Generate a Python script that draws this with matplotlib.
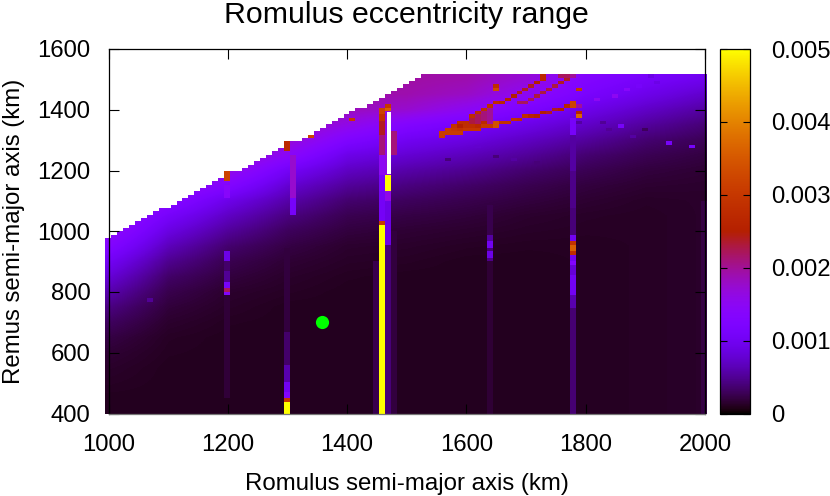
import numpy as np
import matplotlib
matplotlib.use("Agg")
import matplotlib.pyplot as plt
from matplotlib.colors import ListedColormap
from matplotlib.patches import Polygon

plt.rcParams['font.family'] = ['Liberation Sans', 'DejaVu Sans']

# eccentricity range, in units of 1e-3
base_x = [1000, 1100, 1200, 1300, 1400, 1500, 1600, 1700, 1800, 1900, 2000]
base_y = list(range(400, 1551, 50))
base_e = [
    [.10, .10, .10, .10, .10, .10, .10, .10, .11, .12, .14],  # 400
    [.10, .10, .10, .10, .10, .10, .10, .10, .11, .12, .14],
    [.12, .10, .10, .10, .10, .10, .10, .10, .11, .12, .14],  # 500
    [.14, .10, .10, .10, .10, .10, .10, .10, .11, .12, .14],
    [.17, .11, .10, .10, .10, .10, .10, .10, .11, .12, .14],  # 600
    [.22, .12, .10, .10, .10, .10, .10, .10, .11, .12, .14],
    [.31, .15, .11, .10, .10, .10, .10, .10, .11, .12, .14],  # 700
    [.43, .19, .13, .10, .10, .10, .10, .10, .11, .12, .14],
    [.60, .25, .15, .12, .10, .10, .10, .10, .11, .12, .14],  # 800
    [.80, .34, .20, .14, .11, .10, .10, .10, .11, .12, .14],
    [1.02, .48, .26, .17, .13, .12, .10, .10, .11, .12, .14],  # 900
    [1.30, .66, .36, .22, .15, .14, .12, .11, .11, .12, .14],
    [1.55, .87, .52, .30, .20, .17, .15, .13, .12, .12, .14],  # 1000
    [1.70, 1.10, .70, .42, .26, .22, .19, .15, .13, .12, .14],
    [1.80, 1.40, .92, .58, .36, .30, .25, .20, .16, .13, .14],  # 1100
    [1.90, 1.65, 1.30, .78, .52, .42, .34, .26, .20, .16, .15],
    [1.95, 1.80, 1.65, 1.05, .70, .58, .48, .36, .27, .20, .17],  # 1200
    [2.00, 1.90, 1.90, 1.45, .92, .78, .66, .52, .37, .27, .21],
    [2.00, 1.95, 1.95, 1.75, 1.25, 1.00, .87, .70, .53, .37, .28],  # 1300
    [2.00, 1.95, 1.95, 1.90, 1.60, 1.30, 1.10, .92, .72, .53, .39],
    [2.00, 1.95, 1.95, 1.95, 1.85, 1.75, 1.50, 1.20, .93, .72, .55],  # 1400
    [2.00, 1.95, 1.95, 1.95, 1.95, 1.90, 1.80, 1.50, 1.15, .93, .74],
    [2.00, 1.95, 1.95, 1.95, 1.95, 1.95, 1.90, 1.70, 1.30, 1.10, .96],  # 1500
    [2.00, 1.95, 1.95, 1.95, 1.95, 1.95, 1.95, 1.75, 1.40, 1.20, 1.05],
]

# highest row filled in each 10 km column from 1000 km, flat after that
top_row = [52, 53, 54, 55, 56, 57, 58, 59, 60, 61, 61, 62, 63, 64, 65, 66, 67, 68,
           69, 70, 71, 72, 72, 73, 74, 75, 76, 77, 78, 79, 80, 81, 81, 82, 83, 84,
           85, 86, 87, 88, 89, 90, 91, 91, 92, 93, 94, 95, 96, 97, 98, 99, 100, 101]

# resonance stripes: column, lowest km, highest km, value
stripe_x = [1460, 1460, 1460, 1460, 1460, 1460, 1460, 1460, 1460, 1470, 1470, 1470, 1470, 1470, 1470, 1470,
            1450, 1480, 1480, 1300, 1300, 1300, 1300, 1300, 1300, 1300, 1300, 1310, 1310, 1300,
            1200, 1200, 1200, 1200, 1200, 1200, 1200, 1200, 1070,
            1640, 1640, 1640, 1640, 1640, 1640, 1640,
            1780, 1780, 1780, 1780, 1780, 1780, 1780, 1780, 1780, 1780, 1780, 1780, 1780, 1780, 1780,
            1780, 2000, 1570, 1580, 1590, 1600, 1610, 1620, 1630, 1640]
stripe_lo = [400, 1026, 1036, 1135, 1190, 1256, 1322, 1359, 1381, 1405, 1392, 1190, 1131, 1095, 950, 400,
             400, 400, 1250, 400, 436, 445, 454, 475, 510, 565, 675, 1112, 1060, 1265,
             900, 862, 840, 816, 802, 793, 455, 1110, 770,
             947, 931, 911, 895, 400, 970, 993,
             967, 957, 936, 925, 903, 883, 850, 793, 740, 400, 970, 993, 1080, 1200, 1320,
             1405, 400, 1322, 1324, 1324, 1330, 1335, 1340, 1344, 1347]
stripe_hi = [1026, 1036, 1135, 1190, 1256, 1322, 1359, 1381, 1405, 1415, 1405, 1392, 1190, 1131, 1095, 950,
             900, 1000, 1330, 436, 445, 454, 475, 510, 565, 675, 940, 1256, 1112, 1295,
             931, 900, 862, 830, 816, 802, 793, 1150, 783,
             967, 947, 931, 911, 895, 993, 1090,
             993, 967, 957, 936, 925, 903, 883, 850, 793, 740, 993, 1080, 1200, 1320, 1372,
             1425, 1100, 1328, 1342, 1355, 1362, 1375, 1388, 1400, 1412]
stripe_e = [5.0, 3.0, 1.05, 1.1, 1.5, 2.1, 2.4, 2.9, 3.2, 3.0, 3.6, 1.6, 5.0, 1.6, 0.9, 0.4,
            .25, .2, 2.1, 5.0, 3.8, 3.0, 1.3, 1.0, .6, .35, .2, 1.75, 1.1, 2.7,
            .9, .35, .5, 1.1, 2.2, 1.3, .18, 1.4, .5,
            1.0, .4, .9, .45, .17, .55, .25,
            1.1, 2.9, 3.6, 2.8, 1.0, 1.3, .8, 1.0, .6, .38, 1.0, .4, .45, .55, 1.1,
            3.2, .22, 2.6, 2.5, 2.5, 2.4, 2.3, 2.2, 2.1, 2.0]

# lone bright cells
spot_x = [1200, 1340, 1410, 1650, 1650, 1650, 1790, 1790, 1790, 1730, 1760, 1770, 1780, 1910,
          1860, 1940, 1980, 1880, 1840, 1830, 1790, 1680, 1720, 1620, 1650, 1570, 1900,
          1870, 1890, 1920, 1850, 1820, 1790, 1200, 1200]
spot_y = [1180, 1308, 1367, 1477, 1465, 1352, 1377, 1387, 1464, 1508, 1508, 1508, 1508, 1508,
          1344, 1289, 1278, 1310, 1333, 1355, 1360, 1237, 1225, 1280, 1247, 1237, 1333,
          1464, 1483, 1487, 1450, 1437, 1415, 1168, 1190]
spot_e = [3.2, 3.2, 3.0, 2.8, 3.3, 3.4, 3.7, 2.6, 3.0, 2.7, 2.2, 2.2, 2.0, .9,
          1.1, 1.1, 1.1, .55, .5, .5, .55, .55, .4, .75, .4, .4, .3,
          1.4, 1.1, .9, 1.5, 1.5, 2.0, 3.2, 3.2]

# the red streaks in the top right
streak_a_x = [1560, 1570, 1580, 1590, 1600, 1610, 1620, 1630, 1640, 1650, 1660, 1670,
              1680, 1690, 1700, 1710, 1720, 1730, 1740, 1750, 1760, 1770, 1780]
streak_a_y = [1316, 1322, 1324, 1324, 1330, 1335, 1340, 1344, 1347, 1349, 1355, 1360,
              1365, 1370, 1376, 1378, 1383, 1388, 1393, 1398, 1403, 1409, 1420]
streak_a_e = [3.1, 3.1, 3.1, 3.1, 3.0, 3.0, 3.0, 3.0, 3.0, 3.4, 2.9, 2.9,
              2.9, 2.8, 2.8, 2.6, 2.5, 2.5, 2.4, 2.4, 2.5, 2.6, 3.2]
# second row of the same streak where it is thick
streak_d_x = [1560, 1570, 1580, 1590, 1600, 1610, 1620, 1630]
streak_d_y = [1327, 1333, 1335, 1335, 1341, 1346, 1351, 1355]
streak_d_e = [3.1, 3.1, 3.0, 2.9, 2.8, 2.8, 2.7, 2.7]
streak_b_x = [1570, 1580, 1590, 1600, 1610, 1620, 1630, 1640, 1650, 1660, 1670,
              1680, 1690, 1700, 1710, 1720, 1730]
streak_b_y = [1328, 1342, 1355, 1362, 1375, 1388, 1400, 1412, 1420, 1427, 1435,
              1445, 1456, 1466, 1478, 1492, 1505]
streak_b_e = [2.9, 2.9, 2.8, 2.8, 2.8, 2.8, 2.8, 2.8, 2.8, 2.7, 2.6,
              2.5, 2.4, 2.4, 2.4, 2.5, 2.7]
streak_c_x = [1690, 1700, 1710, 1720, 1730, 1740, 1750, 1760, 1770]
streak_c_y = [1420, 1428, 1437, 1446, 1454, 1465, 1478, 1490, 1503]
streak_c_e = [2.2, 2.2, 2.2, 2.3, 2.3, 2.3, 2.3, 2.4, 2.4]

gap_x = [1470]
gap_lo = [1190]
gap_hi = [1392]

romulus_a = [1358]
remus_a = [700]

x_ticks = [1000, 1200, 1400, 1600, 1800, 2000]
y_ticks = [400, 600, 800, 1000, 1200, 1400, 1600]
cb_ticks = [0, 0.001, 0.002, 0.003, 0.004, 0.005]
cb_labels = ["0", "0.001", "0.002", "0.003", "0.004", "0.005"]


def palette(n=512):
    # gnuplot default pm3d palette, rgbformulae 7,5,15
    t = np.linspace(0, 1, n)
    r = np.sqrt(t)
    g = t**3
    b = np.clip(np.sin(2 * np.pi * t), 0, 1)
    return ListedColormap(np.column_stack([r, g, b]))


def put_cell(cells, x, y, e):
    col = int(round((x - 1000) / 10))
    row = int(round((y - 400) / 11))
    cells[row, col] = e


def make_plot():
    cmap = palette()
    fig = plt.figure(figsize=(8.3, 4.96), dpi=100)
    ax = fig.add_axes([108.5 / 830, 1 - 413.5 / 496, 596.5 / 830, 364.5 / 496])

    # smooth background, cut along the stepped top edge
    im = ax.imshow(np.array(base_e) * 1e-3, origin="lower", aspect="auto", cmap=cmap,
                   vmin=0, vmax=0.005, interpolation="bilinear", interpolation_stage="data",
                   extent=[base_x[0] - 50, base_x[-1] + 50, base_y[0] - 25, base_y[-1] + 25])
    verts = [(994, 400)]
    for k in range(101):
        row = top_row[k] if k < len(top_row) else top_row[-1]
        top = 400 + 11 * row + 5.5
        verts.append((994 + 10 * k, top))
        verts.append((1004 + 10 * k, top))
    verts.append((2004, 400))
    im.set_clip_box(fig.bbox)
    im.set_clip_path(Polygon(verts, closed=True, transform=ax.transData))

    # stripes and streaks, one cell per column
    x_edges = 994 + 10 * np.arange(102)
    y_edges = np.concatenate([[400], 405.5 + 11 * np.arange(102)])
    cells = np.full((102, 101), np.nan)
    for x, lo, hi, e in zip(stripe_x, stripe_lo, stripe_hi, stripe_e):
        col = int(round((x - 1000) / 10))
        rows = np.arange(102)
        rows = rows[(400 + 11 * rows >= lo - 1) & (400 + 11 * rows <= hi + 1)]
        cells[rows, col] = e
    for xs, ys, es in [(streak_c_x, streak_c_y, streak_c_e),
                       (streak_b_x, streak_b_y, streak_b_e),
                       (streak_d_x, streak_d_y, streak_d_e),
                       (streak_a_x, streak_a_y, streak_a_e),
                       (spot_x, spot_y, spot_e)]:
        for x, y, e in zip(xs, ys, es):
            put_cell(cells, x, y, e)
    ax.pcolormesh(x_edges, y_edges, np.ma.masked_invalid(cells) * 1e-3, cmap=cmap,
                  vmin=0, vmax=0.005, clip_on=False, antialiased=False)

    # hole in the data above the 1470 km stripe
    ax.bar(gap_x, np.array(gap_hi) - np.array(gap_lo), bottom=gap_lo, width=6.5,
           color="white", linewidth=0, zorder=1.5)

    ax.plot(romulus_a, remus_a, "o", color="#00ff00", markersize=9.5,
            markeredgewidth=0, zorder=3)

    ax.set_xlim(1000, 2000)
    ax.set_ylim(400, 1600)
    ax.set_xticks(x_ticks)
    ax.set_yticks(y_ticks)
    ax.tick_params(direction="in", length=7, width=0.8, top=True, right=True, labelsize=17.2)
    ax.tick_params(axis="x", pad=15)
    ax.tick_params(axis="y", pad=13)
    ax.set_xlabel("Romulus semi-major axis (km)", fontsize=17.3, labelpad=12)
    ax.set_ylabel("Remus semi-major axis (km)", fontsize=17.3, labelpad=9)
    ax.set_title("Romulus eccentricity range", fontsize=21.8, pad=19)
    for s in ax.spines.values():
        s.set_linewidth(0.9)
    ax.spines["bottom"].set_color("#777777")

    cax = fig.add_axes([720 / 830, 1 - 413.5 / 496, 30 / 830, 364.5 / 496])
    cb = fig.colorbar(im, cax=cax, ticks=cb_ticks)
    cb.ax.set_yticklabels(cb_labels)
    cb.ax.tick_params(direction="in", length=5, width=0.8, left=True, right=True,
                      labelsize=17.2, pad=15)
    cb.outline.set_linewidth(0.9)

    fig.savefig("out.png", dpi=100)
    plt.close(fig)


if __name__ == "__main__":
    make_plot()
